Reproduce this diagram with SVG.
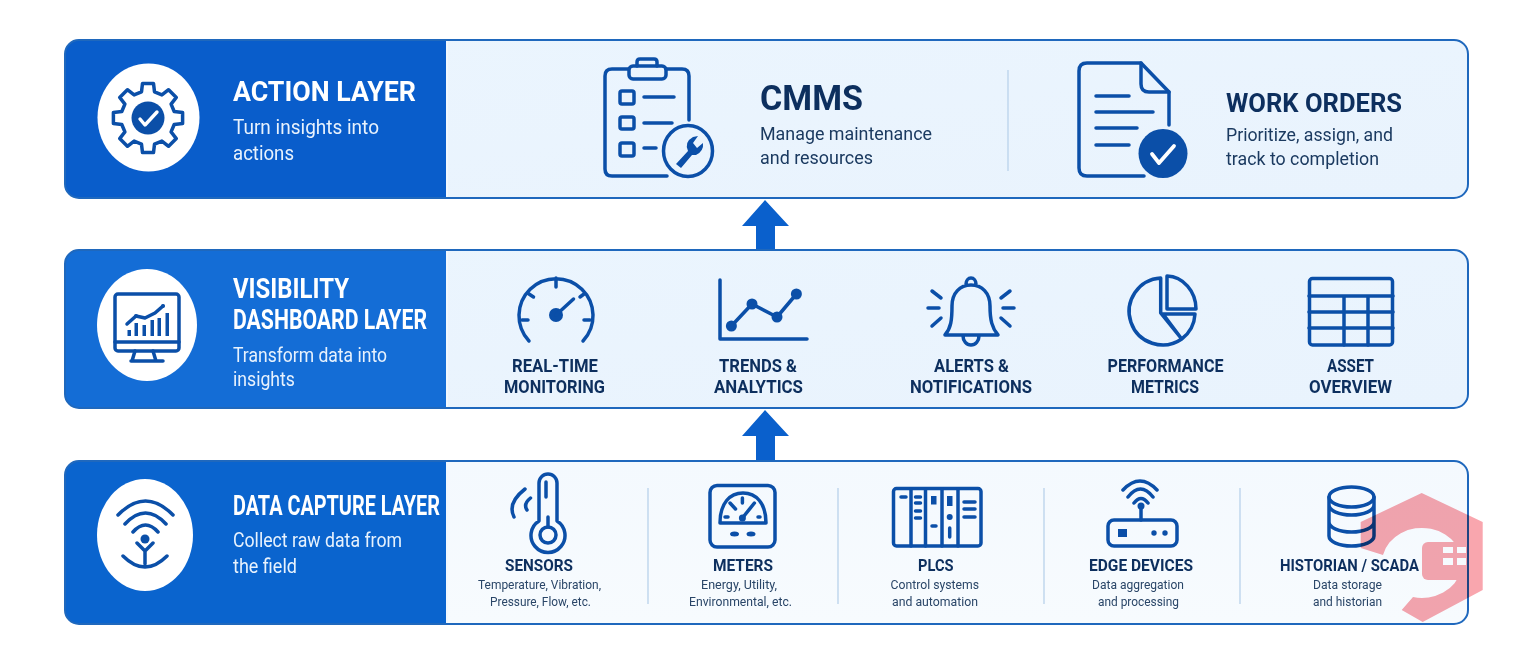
<svg xmlns="http://www.w3.org/2000/svg" width="1536" height="672" viewBox="0 0 1536 672">
<defs>
<linearGradient id="g1" x1="0" y1="0" x2="1" y2="1"><stop offset="0" stop-color="#ebf5fe"/><stop offset="1" stop-color="#e9f3fd"/></linearGradient>
<linearGradient id="g3" x1="0" y1="0" x2="0" y2="1"><stop offset="0" stop-color="#f4f9fe"/><stop offset="1" stop-color="#f7fbfe"/></linearGradient>
</defs>
<style>
text{font-family:Roboto,"Liberation Sans",sans-serif}
.bg{fill:#fff}
.frame{fill:none;stroke:#1f68bd;stroke-width:2}
.sep{stroke:#f2f8fe;stroke-width:2}
.h{font-weight:700;fill:#fff;font-size:27px}
.s{fill:#e8f2fd;font-size:20px}
.t{font-weight:700;fill:#0d2f5e}
.d{fill:#1b3a60}
.l{font-weight:700;fill:#0d2f5e;font-size:17.5px}
.m{font-weight:700;fill:#0d2f5e;font-size:16px}
.c{fill:#2a4668;font-size:13px}
.i{fill:none;stroke:#0b4fa8;stroke-width:3.5;stroke-linecap:round;stroke-linejoin:round}
.f{fill:#0b4fa8}
.w{fill:#fff}
.div{stroke:#bdd5ec;stroke-width:1.4}
</style>
<rect class="bg" width="1536" height="672"/>

<g id="connectors">
<polygon points="765,200 789,226 775,226 775,251 756,251 756,226 742,226" fill="#0a60cc"/>
<polygon points="765,410 789,436 775,436 775,462 756,462 756,436 742,436" fill="#0a60cc"/>
</g>

<g id="action-layer">
<rect x="65" y="40" width="1403" height="158" rx="14" fill="url(#g1)"/>
<path d="M79 40H446V198H79A14 14 0 0 1 65 184V54A14 14 0 0 1 79 40Z" fill="#095dcb"/>
<line class="sep" x1="447" y1="41" x2="447" y2="197"/>
<rect class="frame" x="65" y="40" width="1403" height="158" rx="14"/>
<ellipse class="w" cx="148.500" cy="117.500" rx="51" ry="54"/>
<g transform="translate(148 118)">
<path class="i" stroke-width="3" d="M-6.500-26.200L-5.500-34.600H5.500L6.500-26.200L13.900-23.100L20.600-28.300L28.300-20.600L23.100-13.900L26.200-6.500L34.600-5.500V5.500L26.200 6.500L23.100 13.900L28.300 20.600L20.600 28.300L13.900 23.100L6.500 26.200L5.500 34.600H-5.500L-6.500 26.200L-13.900 23.100L-20.600 28.300L-28.300 20.600L-23.100 13.900L-26.200 6.500L-34.600 5.500V-5.500L-26.200-6.500L-23.100-13.900L-28.300-20.600L-20.600-28.300L-13.900-23.100Z"/>
<circle class="f" r="16.500"/>
<path d="M-8 1L-3 7L9-6" fill="none" stroke="#fff" stroke-width="3.400" stroke-linecap="round" stroke-linejoin="round"/>
</g>
<text class="h" x="233" y="101" textLength="183" lengthAdjust="spacingAndGlyphs">ACTION LAYER</text>
<text class="s" x="233" y="134" textLength="146" lengthAdjust="spacingAndGlyphs">Turn insights into</text>
<text class="s" x="233" y="160" textLength="61" lengthAdjust="spacingAndGlyphs">actions</text>
</g>

<g id="cmms">
<path class="i" d="M667 176H612Q605 176 605 169V76Q605 69 612 69H628M666 69H682Q689 69 689 76V120"/>
<rect class="i" x="629" y="66" width="37" height="13" rx="4"/>
<path class="i" d="M637 66V62Q637 59 640 59H654Q657 59 657 62V66" />
<rect class="i" x="620" y="91" width="14" height="13" rx="2"/>
<rect class="i" x="620" y="117" width="14" height="12" rx="2"/>
<rect class="i" x="620" y="143" width="14" height="13" rx="2"/>
<path class="i" d="M644 97H674M644 123H672M644 148H656"/>
<ellipse class="i" cx="688" cy="151" rx="24.500" ry="25.500"/>
<path d="M676 164L688 151Q684 142 693 137L698 136L693 143L697 148L703 143Q704 151 696 155L692 155L681 168Z" class="f"/>
<text class="t" x="760" y="110" font-size="35" textLength="103" lengthAdjust="spacingAndGlyphs">CMMS</text>
<text class="d" x="760" y="140" font-size="19" textLength="172" lengthAdjust="spacingAndGlyphs">Manage maintenance</text>
<text class="d" x="760" y="164" font-size="19" textLength="113" lengthAdjust="spacingAndGlyphs">and resources</text>
</g>
<line class="div" x1="1008" y1="70" x2="1008" y2="171"/>
<g id="work-orders">
<path class="i" d="M1144 176H1087Q1079 176 1079 168V71Q1079 63 1087 63H1141L1169 92V125"/>
<path class="i" d="M1141 63V84Q1141 92 1149 92H1169"/>
<path class="i" d="M1096 96H1129M1096 112H1153M1096 128H1137M1096 145H1129"/>
<ellipse class="f" cx="1163" cy="153.500" rx="24.500" ry="24.500"/>
<path d="M1152 154L1159 163L1174 146" fill="none" stroke="#fff" stroke-width="3.800" stroke-linecap="round" stroke-linejoin="round"/>
<text class="t" x="1226" y="112" font-size="25" textLength="176" lengthAdjust="spacingAndGlyphs">WORK ORDERS</text>
<text class="d" x="1226" y="141" font-size="19" textLength="167" lengthAdjust="spacingAndGlyphs">Prioritize, assign, and</text>
<text class="d" x="1226" y="165" font-size="19" textLength="153" lengthAdjust="spacingAndGlyphs">track to completion</text>
</g>

<g id="visibility-layer">
<rect x="65" y="250" width="1403" height="158" rx="14" fill="url(#g1)"/>
<path d="M79 250H446V408H79A14 14 0 0 1 65 394V264A14 14 0 0 1 79 250Z" fill="#146dd6"/>
<line class="sep" x1="447" y1="251" x2="447" y2="407"/>
<rect class="frame" x="65" y="250" width="1403" height="158" rx="14"/>
<ellipse class="w" cx="147" cy="325" rx="50" ry="56"/>
<rect class="i" x="115" y="294" width="64" height="57" rx="3" stroke-width="2.800"/>
<path class="i" stroke-width="2.800" d="M115 342H179M135 351L132 361M153 351L156 361M131 361H163"/>
<path class="f" d="M127.500 330h3.500v6h-3.500zM134.500 323h3.500v13h-3.500zM142.500 325h3.500v11h-3.500zM150.500 320h3.500v16h-3.500zM157.500 318h3.500v18h-3.500zM165.500 313h3.500v23h-3.500z"/>
<path class="i" stroke-width="1.800" d="M127 324L136 316L145 318L155 313L163 306"/>
<circle class="f" cx="136" cy="316" r="2"/><circle class="f" cx="163" cy="306" r="2"/>
<text class="h" x="233" y="298" textLength="116" lengthAdjust="spacingAndGlyphs">VISIBILITY</text>
<text class="h" x="233" y="329" textLength="194" lengthAdjust="spacingAndGlyphs">DASHBOARD LAYER</text>
<text class="s" x="233" y="362" textLength="154" lengthAdjust="spacingAndGlyphs">Transform data into</text>
<text class="s" x="233" y="386" textLength="62" lengthAdjust="spacingAndGlyphs">insights</text>
</g>

<g id="real-time-monitoring">
<path class="i" d="M529 341A37 37 0 1 1 583 341M556 278V287M522 320H528M584 320H590M529 294L533.500 297M584 294L580 297"/>
<circle class="f" cx="556" cy="315" r="7"/>
<path class="i" d="M556 315L573.500 299"/>
<text class="l" x="512" y="372" textLength="86" lengthAdjust="spacingAndGlyphs">REAL-TIME</text>
<text class="l" x="504" y="393" textLength="101" lengthAdjust="spacingAndGlyphs">MONITORING</text>
</g>
<g id="trends-analytics">
<path class="i" d="M720 280V339H807M731.400 326L752 304L777 317L796.400 294"/>
<circle class="f" cx="731.400" cy="326" r="5.500"/><circle class="f" cx="752" cy="304" r="5.500"/><circle class="f" cx="777" cy="317" r="5.500"/><circle class="f" cx="796.400" cy="294" r="5.500"/>
<text class="l" x="719" y="372" textLength="78" lengthAdjust="spacingAndGlyphs">TRENDS &amp;</text>
<text class="l" x="714" y="393" textLength="89" lengthAdjust="spacingAndGlyphs">ANALYTICS</text>
</g>
<g id="alerts-notifications">
<path class="i" stroke-width="3" d="M945 335C951 328 952 320 952 306C952 293 960 285 971 285C982 285 990 293 990 306C990 320 992 328 998 335ZM966 284A5 6 0 0 1 976 284M963 336A8 9 0 0 0 979 336M932 291L941 298M928 308H939M932 326L941 318M1010 291L1001 298M1014 308H1003M1010 326L1001 318"/>
<text class="l" x="934" y="372" textLength="75" lengthAdjust="spacingAndGlyphs">ALERTS &amp;</text>
<text class="l" x="910" y="393" textLength="122" lengthAdjust="spacingAndGlyphs">NOTIFICATIONS</text>
</g>
<g id="performance-metrics">
<path class="i" stroke-width="3" d="M1181.700 339A33.500 33.500 0 1 1 1160.700 278V313ZM1163 314H1195A33.500 33.500 0 0 1 1181.700 339ZM1167 276V309H1196A30 33 0 0 0 1167 276Z"/>
<text class="l" x="1107.500" y="372" textLength="116" lengthAdjust="spacingAndGlyphs">PERFORMANCE</text>
<text class="l" x="1131" y="393" textLength="68" lengthAdjust="spacingAndGlyphs">METRICS</text>
</g>
<g id="asset-overview">
<path class="i" stroke-width="3" d="M1344 296V345M1368 296V345M1309 296H1393M1309 312H1393M1309 328H1393"/>
<rect class="i" stroke-width="3" x="1309.500" y="278.500" width="83" height="66.500" rx="3"/>
<text class="l" x="1327" y="372" textLength="47" lengthAdjust="spacingAndGlyphs">ASSET</text>
<text class="l" x="1309" y="393" textLength="83" lengthAdjust="spacingAndGlyphs">OVERVIEW</text>
</g>

<g id="data-capture-layer">
<rect x="65" y="461" width="1403" height="163" rx="14" fill="url(#g3)"/>
<path d="M79 461H446V624H79A14 14 0 0 1 65 610V475A14 14 0 0 1 79 461Z" fill="#0a64ce"/>
<line class="sep" x1="447" y1="462" x2="447" y2="623"/>
<rect class="frame" x="65" y="461" width="1403" height="163" rx="14"/>
<ellipse class="w" cx="145" cy="535" rx="48" ry="56"/>
<path class="i" stroke-width="3.200" d="M118 515Q145.500 487 173 515M125 524Q145.500 502 166 524M133 532Q145.500 518 158 532M137 543L145 551L153 543M145 551V564M123 556Q145 578 167 556"/>
<circle class="f" cx="145" cy="539" r="4.500"/>
<text class="h" x="233" y="515" textLength="207" lengthAdjust="spacingAndGlyphs">DATA CAPTURE LAYER</text>
<text class="s" x="233" y="547" textLength="169" lengthAdjust="spacingAndGlyphs">Collect raw data from</text>
<text class="s" x="233" y="573" textLength="64" lengthAdjust="spacingAndGlyphs">the field</text>
</g>

<g id="sensors">
<path class="i" d="M539 521V483A9 9 0 0 1 557 483V521A17 17 0 1 1 539 521ZM546 482V497M548 517V527M525 489Q507 503 514 517M530.500 498Q523 504 527 510"/>
<circle class="i" cx="548" cy="535" r="8"/>
<text class="m" x="505" y="571" textLength="68" lengthAdjust="spacingAndGlyphs">SENSORS</text>
<text class="c" x="478" y="589" textLength="123" lengthAdjust="spacingAndGlyphs">Temperature, Vibration,</text>
<text class="c" x="490" y="606" textLength="101" lengthAdjust="spacingAndGlyphs">Pressure, Flow, etc.</text>
</g>
<line class="div" x1="648" y1="488" x2="648" y2="604"/>
<g id="meters">
<rect class="i" x="710" y="485.500" width="65" height="61.500" rx="7"/>
<path class="i" stroke-width="2.600" d="M720 523C720 503 730 493 743 493C756 493 766 503 766 523Z"/>
<path class="i" stroke-width="2" d="M742.400 498V503M730 503L735.500 509M725 517H728M758 517H760M742.400 518L754.400 503"/>
<circle class="f" cx="742.400" cy="518" r="3.500"/>
<ellipse class="f" cx="734.500" cy="534" rx="4.500" ry="2.500"/><ellipse class="f" cx="751" cy="534" rx="4.500" ry="2.500"/>
<text class="m" x="713" y="571" textLength="60" lengthAdjust="spacingAndGlyphs">METERS</text>
<text class="c" x="701" y="589" textLength="76" lengthAdjust="spacingAndGlyphs">Energy, Utility,</text>
<text class="c" x="689" y="606" textLength="103" lengthAdjust="spacingAndGlyphs">Environmental, etc.</text>
</g>
<line class="div" x1="838" y1="488" x2="838" y2="604"/>
<g id="plcs">
<rect class="i" x="893.500" y="488.500" width="87.500" height="57.500" rx="3"/>
<path class="i" stroke-width="3" d="M911 489V546M925.500 489V546M942 489V546M958 489V546"/>
<path class="i" stroke-width="2.500" d="M901 497H906M915.500 497H920.500M915.500 503H920.500M915.500 511H920.500M915.500 518H920.500M932 526H936M949.700 528V537M964 502H975M964 509H975M964 517H975"/>
<rect class="f" x="931" y="496" width="5.500" height="8.500"/><rect class="f" x="947" y="496" width="5.500" height="10"/>
<circle class="f" cx="949.700" cy="517" r="3"/>
<text class="m" x="918" y="571" textLength="35.500" lengthAdjust="spacingAndGlyphs">PLCS</text>
<text class="c" x="890.500" y="589" textLength="88.500" lengthAdjust="spacingAndGlyphs">Control systems</text>
<text class="c" x="892" y="606" textLength="86" lengthAdjust="spacingAndGlyphs">and automation</text>
</g>
<line class="div" x1="1044" y1="488" x2="1044" y2="604"/>
<g id="edge-devices">
<rect class="i" x="1108" y="520" width="69" height="26" rx="6"/>
<rect class="f" x="1118" y="529" width="9" height="8"/>
<circle class="f" cx="1154" cy="533" r="2.700"/><circle class="f" cx="1165" cy="533" r="2.700"/>
<path class="i" stroke-width="3" d="M1141 507V520M1123 490Q1140 472 1157 490M1128 497Q1140.500 481 1153 497M1134 503Q1141 494 1148 503"/>
<circle class="f" cx="1141" cy="506" r="3.500"/>
<text class="m" x="1089" y="571" textLength="104" lengthAdjust="spacingAndGlyphs">EDGE DEVICES</text>
<text class="c" x="1092" y="589" textLength="92" lengthAdjust="spacingAndGlyphs">Data aggregation</text>
<text class="c" x="1098" y="606" textLength="81" lengthAdjust="spacingAndGlyphs">and processing</text>
</g>
<line class="div" x1="1240" y1="488" x2="1240" y2="604"/>
<g id="historian-scada">
<ellipse class="i" stroke-width="3" cx="1351.500" cy="497" rx="22.500" ry="10"/>
<path class="i" stroke-width="3" d="M1329 497V536A22.500 10 0 0 0 1374 536V497M1329 505A22.500 10 0 0 0 1374 505M1329 522A22.500 10 0 0 0 1374 522"/>
<text class="m" x="1280" y="571" textLength="139" lengthAdjust="spacingAndGlyphs">HISTORIAN / SCADA</text>
<text class="c" x="1313" y="589" textLength="69" lengthAdjust="spacingAndGlyphs">Data storage</text>
<text class="c" x="1313" y="606" textLength="69" lengthAdjust="spacingAndGlyphs">and historian</text>
</g>

<g style="mix-blend-mode:multiply">
<path fill="#f9a6ae" d="M1360.700 522L1421.700 493L1482.700 522V590L1422.700 622L1401.700 610L1413 597A40 35 0 1 0 1383 555L1360.700 548Z"/>
<rect fill="#f9a6ae" x="1422" y="542" width="48" height="38" rx="6"/>
<path fill="#fff" d="M1443 547V553H1453V547ZM1457 547V553H1466V547ZM1443 558V565H1453V558ZM1457 558V565H1466V558Z"/>
</g>
</svg>
